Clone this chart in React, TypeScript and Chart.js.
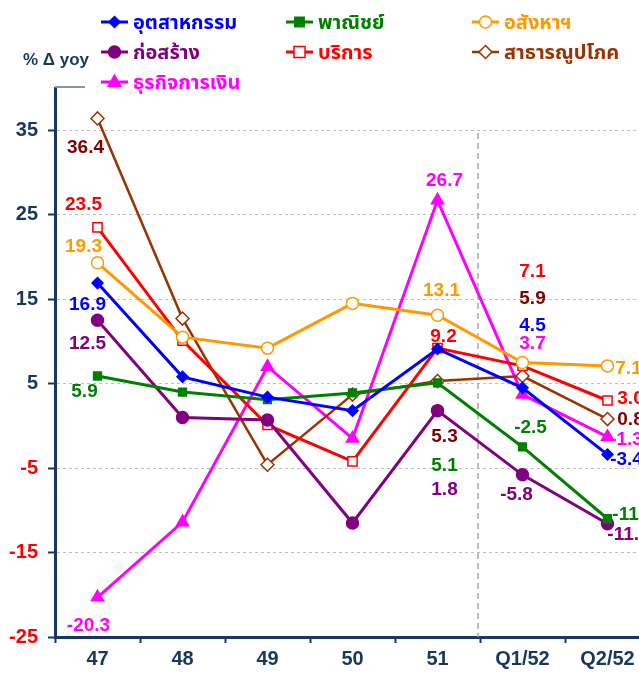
import React, { useEffect, useRef } from "react";
import { Chart, registerables } from "chart.js";

Chart.register(...registerables);

// ---------- data ----------
const categories = ["47", "48", "49", "50", "51", "Q1/52", "Q2/52"];
const seriesNames = [
  "อุตสาหกรรม",
  "พาณิชย์",
  "อสังหาฯ",
  "ก่อสร้าง",
  "บริการ",
  "สาธารณูปโภค",
  "ธุรกิจการเงิน",
];
const industry = [16.9, 5.8, 3.4, 1.8, 9.1, 4.5, -3.4];
const commerce = [5.9, 4.0, 3.1, 3.9, 5.1, -2.5, -11.0];
const realEstate = [19.3, 10.5, 9.2, 14.5, 13.1, 7.5, 7.1];
const construction = [12.5, 1.0, 0.7, -11.5, 1.8, -5.8, -11.6];
const services = [23.5, 10.1, 0.1, -4.2, 9.2, 7.1, 3.0];
const utilities = [36.4, 12.7, -4.6, 3.7, 5.3, 5.9, 0.8];
const finance = [-20.3, -11.4, 7.0, -1.5, 26.7, 3.7, -1.3];
const yTickValues = [-25, -15, -5, 5, 15, 25, 35];
const yMin = -25;
const yMax = 40;

// ---------- styles ----------
const NAVY = "#17375E";
const FONT = '"Liberation Sans", Arial, "Noto Sans Thai", "Tlwg Typo", sans-serif';

type Style = {
  color: string;
  labelColor: string;
  marker: "diamond" | "square" | "circle" | "triangle";
  open: boolean;
  radius: number;
  width: number;
};

const styles: Style[] = [
  { color: "#0000FF", labelColor: "#0000FF", marker: "diamond", open: false, radius: 5.5, width: 3 },
  { color: "#008000", labelColor: "#008000", marker: "square", open: false, radius: 5.5, width: 3 },
  { color: "#FF9900", labelColor: "#FF9900", marker: "circle", open: true, radius: 6, width: 3 },
  { color: "#800080", labelColor: "#800080", marker: "circle", open: false, radius: 6, width: 3 },
  { color: "#FF0000", labelColor: "#FF0000", marker: "square", open: true, radius: 6.5, width: 3 },
  { color: "#993300", labelColor: "#800000", marker: "diamond", open: true, radius: 6.5, width: 2.5 },
  { color: "#FF00FF", labelColor: "#FF00FF", marker: "triangle", open: false, radius: 7, width: 3 },
];

// label centre offsets from the point (px); null = no label
const labelOffsets: (number[] | null)[][] = [
  [[-10, 22], null, null, null, null, [10, -62], [19, 5]],
  [[-13, 16], null, null, null, [7, 83], [8, -19], [26, -4]],
  [[-14, -16], null, null, null, [4, -24], null, [21, 3]],
  [[-10, 23], null, null, null, [7, 79], [-6, 20], [21, 11]],
  [[-14, -23], null, null, null, [6, -11], [10, -94], [23, -2]],
  [[-12, 29], null, null, null, [7, 56], [10, -77], [23, 1]],
  [[-9, 28], null, null, null, [7, -20], [10, -51], [19, 3]],
];

const pointStyleMap: Record<string, string> = {
  diamond: "rectRot",
  square: "rect",
  circle: "circle",
  triangle: "triangle",
};

function drawMarker(ctx: CanvasRenderingContext2D, s: Style, x: number, y: number) {
  const r = s.radius;
  ctx.save();
  ctx.beginPath();
  if (s.marker === "circle") {
    ctx.arc(x, y, r, 0, Math.PI * 2);
  } else if (s.marker === "square") {
    const h = r * 0.85;
    ctx.rect(x - h, y - h, h * 2, h * 2);
  } else if (s.marker === "diamond") {
    ctx.moveTo(x, y - r);
    ctx.lineTo(x + r, y);
    ctx.lineTo(x, y + r);
    ctx.lineTo(x - r, y);
    ctx.closePath();
  } else {
    ctx.moveTo(x, y - r);
    ctx.lineTo(x + r * 0.9, y + r * 0.6);
    ctx.lineTo(x - r * 0.9, y + r * 0.6);
    ctx.closePath();
  }
  ctx.fillStyle = s.open ? "#FFFFFF" : s.color;
  ctx.fill();
  ctx.lineWidth = 1.5;
  ctx.strokeStyle = s.color;
  ctx.stroke();
  ctx.restore();
}

const decorPlugin = {
  id: "decor",
  beforeDatasetsDraw(chart: any) {
    const ctx: CanvasRenderingContext2D = chart.ctx;
    const x = chart.scales.x;
    const area = chart.chartArea;
    const sep = (x.getPixelForValue(4) + x.getPixelForValue(5)) / 2;
    ctx.save();
    ctx.strokeStyle = "#A6A6A6";
    ctx.lineWidth = 1.5;
    ctx.setLineDash([6, 4]);
    ctx.beginPath();
    ctx.moveTo(sep - 2, area.top + 45);
    ctx.lineTo(sep - 2, area.bottom);
    ctx.stroke();
    ctx.restore();
  },
  afterDatasetsDraw(chart: any) {
    const ctx: CanvasRenderingContext2D = chart.ctx;
    ctx.save();
    ctx.font = `bold 19px ${FONT}`;
    ctx.textAlign = "center";
    ctx.textBaseline = "middle";
    chart.data.datasets.forEach((ds: any, di: number) => {
      const meta = chart.getDatasetMeta(di);
      meta.data.forEach((pt: any, i: number) => {
        const off = labelOffsets[di][i];
        if (!off) return;
        const v = ds.data[i] as number;
        ctx.fillStyle = styles[di].labelColor;
        ctx.fillText(v.toFixed(1), pt.x + off[0], pt.y + off[1]);
      });
    });
    ctx.restore();
  },
  afterDraw(chart: any) {
    const ctx: CanvasRenderingContext2D = chart.ctx;
    const area = chart.chartArea;
    ctx.save();
    // short top frame line
    ctx.strokeStyle = "#7F96B2";
    ctx.lineWidth = 2;
    ctx.beginPath();
    ctx.moveTo(area.left, area.top - 1);
    ctx.lineTo(area.left + 30, area.top - 1);
    ctx.stroke();
    // axis title
    ctx.fillStyle = NAVY;
    ctx.font = `bold 17px ${FONT}`;
    ctx.textAlign = "center";
    ctx.textBaseline = "middle";
    ctx.fillText("% \u0394 yoy", 56, 60);
    // legend
    const colX = [101, 286, 472];
    const rowY = [22, 52, 82];
    ctx.font = `bold 20px ${FONT}`;
    ctx.textAlign = "left";
    seriesNames.forEach((name, i) => {
      const s = styles[i];
      const lx = colX[i % 3];
      const ly = rowY[Math.floor(i / 3)];
      ctx.strokeStyle = s.color;
      ctx.lineWidth = s.width;
      ctx.beginPath();
      ctx.moveTo(lx, ly);
      ctx.lineTo(lx + 27, ly);
      ctx.stroke();
      drawMarker(ctx, s, lx + 13.5, ly);
      ctx.fillStyle = s.color;
      ctx.fillText(name, lx + 32, ly + 1);
    });
    ctx.restore();
  },
};

export default function App() {
  const ref = useRef<HTMLCanvasElement | null>(null);

  useEffect(() => {
    if (!ref.current) return;
    const seriesData = [industry, commerce, realEstate, construction, services, utilities, finance];
    const chart = new Chart(ref.current, {
      type: "line",
      data: {
        labels: categories,
        datasets: seriesData.map((d, i) => ({
          label: seriesNames[i],
          data: d,
          borderColor: styles[i].color,
          borderWidth: styles[i].width,
          backgroundColor: styles[i].open ? "#FFFFFF" : styles[i].color,
          pointBackgroundColor: styles[i].open ? "#FFFFFF" : styles[i].color,
          pointBorderColor: styles[i].color,
          pointBorderWidth: 1.5,
          pointStyle: pointStyleMap[styles[i].marker] as any,
          pointRadius: styles[i].radius,
          tension: 0,
          fill: false,
          clip: false as any,
        })),
      },
      options: {
        animation: false,
        responsive: false,
        maintainAspectRatio: false,
        layout: { padding: { top: 88, left: 0, right: 10, bottom: 0 } },
        plugins: {
          legend: { display: false },
          tooltip: { enabled: false },
          title: { display: false },
        },
        scales: {
          x: {
            offset: true,
            grid: {
              offset: true,
              drawOnChartArea: false,
              tickLength: 6,
              tickColor: NAVY,
              tickWidth: 2,
            },
            border: { color: NAVY, width: 3 },
            ticks: {
              color: NAVY,
              font: { family: FONT, size: 20, weight: "bold" },
              padding: 4,
              maxRotation: 0,
              autoSkip: false,
            },
            afterFit: (s: any) => {
              s.height = 38;
            },
          },
          y: {
            min: yMin,
            max: yMax,
            afterBuildTicks: (s: any) => {
              s.ticks = yTickValues.map((v) => ({ value: v }));
            },
            grid: {
              color: (c: any) => (c.tick && c.tick.value === yMin ? "rgba(0,0,0,0)" : "#BFBFBF"),
              lineWidth: 1,
              tickLength: 7,
              tickColor: NAVY,
              tickWidth: 2,
              tickBorderDash: [],
            },
            border: { color: NAVY, width: 3, dash: [3, 3] },
            ticks: {
              color: (c: any) => (c.tick && c.tick.value < 0 ? "#FF0000" : NAVY),
              font: { family: FONT, size: 20, weight: "bold" },
              padding: 10,
            },
            afterFit: (s: any) => {
              s.width = 55;
            },
          },
        },
      },
      plugins: [decorPlugin],
    });
    return () => chart.destroy();
  }, []);

  return (
    <div
      style={{
        position: "absolute",
        left: 0,
        top: 0,
        width: 639,
        height: 675,
        overflow: "hidden",
        background: "#FFFFFF",
      }}
    >
      <canvas ref={ref} width={660} height={675} style={{ width: 660, height: 675, display: "block" }} />
    </div>
  );
}
